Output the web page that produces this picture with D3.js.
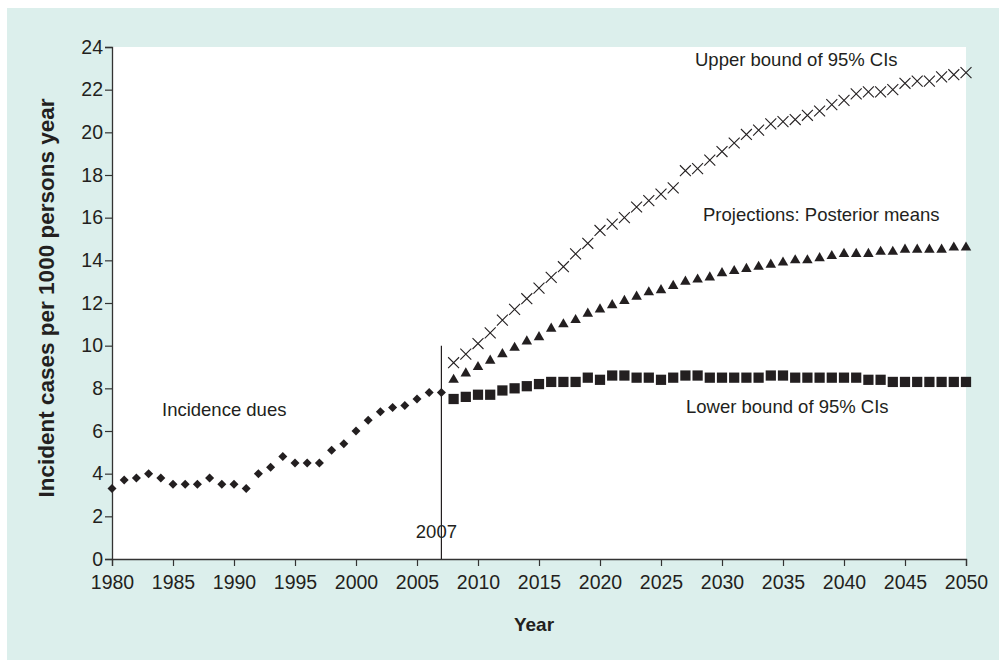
<!DOCTYPE html>
<html>
<head>
<meta charset="utf-8">
<script src="https://cdn.jsdelivr.net/npm/d3@7"></script>
<style>
  html, body { margin: 0; padding: 0; background: #ffffff; }
  svg { display: block; }
  text { font-family: "Liberation Sans", Arial, Helvetica, sans-serif; fill: #231f20; }
</style>
</head>
<body>
<svg id="chart" width="1006" height="664"></svg>
<script>
// Observed incidence, 1980–2007
const observedYears = d3.range(1980, 2008);
const observedValues = [3.3, 3.7, 3.8, 4.0, 3.8, 3.5, 3.5, 3.5, 3.8, 3.5, 3.5, 3.3, 4.0, 4.3,
  4.8, 4.5, 4.5, 4.5, 5.1, 5.4, 6.0, 6.5, 6.9, 7.1, 7.2, 7.5, 7.8, 7.8];

// Projections, 2008–2050
const projectionYears = d3.range(2008, 2051);
const upperBound = [9.2, 9.6, 10.1, 10.6, 11.2, 11.7, 12.2, 12.7, 13.2, 13.7, 14.3, 14.8, 15.4,
  15.7, 16.0, 16.5, 16.8, 17.1, 17.4, 18.2, 18.3, 18.7, 19.1, 19.5, 19.9, 20.1, 20.4, 20.5,
  20.6, 20.8, 21.0, 21.3, 21.5, 21.8, 21.9, 21.9, 22.0, 22.3, 22.4, 22.4, 22.6, 22.7, 22.8];
const posteriorMeans = [8.4, 8.7, 9.0, 9.3, 9.6, 9.9, 10.2, 10.4, 10.8, 11.0, 11.2, 11.5, 11.7,
  11.9, 12.1, 12.3, 12.5, 12.6, 12.8, 13.0, 13.1, 13.2, 13.4, 13.5, 13.6, 13.7, 13.8, 13.9,
  14.0, 14.0, 14.1, 14.2, 14.3, 14.3, 14.3, 14.4, 14.4, 14.5, 14.5, 14.5, 14.5, 14.6, 14.6];
const lowerBound = [7.5, 7.6, 7.7, 7.7, 7.9, 8.0, 8.1, 8.2, 8.3, 8.3, 8.3, 8.5, 8.4, 8.6, 8.6,
  8.5, 8.5, 8.4, 8.5, 8.6, 8.6, 8.5, 8.5, 8.5, 8.5, 8.5, 8.6, 8.6, 8.5, 8.5, 8.5, 8.5, 8.5,
  8.5, 8.4, 8.4, 8.3, 8.3, 8.3, 8.3, 8.3, 8.3, 8.3];

const xTicks = d3.range(1980, 2051, 5);
const yTicks = d3.range(0, 25, 2);
const cutoffYear = 2007;
const cutoffTop = 10;

const svg = d3.select("#chart");

// Panel background
svg.append("rect").attr("x", 7).attr("y", 8).attr("width", 992).attr("height", 652)
  .attr("fill", "#dcefec");

const x = d3.scaleLinear().domain([1980, 2050]).range([112, 966]);
const y = d3.scaleLinear().domain([0, 24]).range([559, 47]);

// Plot area
svg.append("rect")
  .attr("x", x(1980)).attr("y", y(24))
  .attr("width", x(2050) - x(1980)).attr("height", y(0) - y(24))
  .attr("fill", "#ffffff");

// Axes
const xAxis = svg.append("g").attr("transform", `translate(0,${y(0)})`)
  .call(d3.axisBottom(x).tickValues(xTicks).tickFormat(d3.format("d")).tickSize(7).tickPadding(9));
const yAxis = svg.append("g").attr("transform", `translate(${x(1980)},0)`)
  .call(d3.axisLeft(y).tickValues(yTicks).tickSize(7).tickPadding(2));

[xAxis, yAxis].forEach(g => {
  g.select(".domain").attr("stroke", "#333").attr("stroke-width", 1.3);
  g.selectAll(".tick line").attr("stroke", "#333").attr("stroke-width", 1.2);
  g.selectAll(".tick text").style("font-size", "19.5px")
    .style("font-family", "'Liberation Sans', Arial, sans-serif").attr("fill", "#231f20");
});
yAxis.selectAll(".tick text").attr("dy", "0.32em");

// Axis titles
svg.append("text").attr("x", x(2015) - 5).attr("y", 631)
  .attr("text-anchor", "middle").style("font-size", "19px").style("font-weight", "bold")
  .text("Year");
svg.append("text")
  .attr("transform", `translate(54,298) rotate(-90)`)
  .attr("text-anchor", "middle").style("font-size", "22.5px").style("font-weight", "bold")
  .text("Incident cases per 1000 persons year");

// Cut-off between observed and projected years
svg.append("line")
  .attr("x1", x(cutoffYear)).attr("x2", x(cutoffYear))
  .attr("y1", y(0)).attr("y2", y(cutoffTop))
  .attr("stroke", "#231f20").attr("stroke-width", 1.2);
svg.append("text").attr("x", x(cutoffYear) - 5).attr("y", 538)
  .attr("text-anchor", "middle").style("font-size", "18.5px").text("2007");

const ink = "#231f20";

// Observed incidence: diamonds
svg.append("g").selectAll("path")
  .data(observedYears.map((yr, i) => [yr, observedValues[i]]))
  .join("path")
  .attr("transform", d => `translate(${x(d[0])},${y(d[1])})`)
  .attr("d", d3.symbol(d3.symbolDiamond2, 52))
  .attr("fill", ink);

// Lower bound: squares
svg.append("g").selectAll("path")
  .data(projectionYears.map((yr, i) => [yr, lowerBound[i]]))
  .join("path")
  .attr("transform", d => `translate(${x(d[0])},${y(d[1])})`)
  .attr("d", d3.symbol(d3.symbolSquare, 105))
  .attr("fill", ink);

// Posterior means: triangles
svg.append("g").selectAll("path")
  .data(projectionYears.map((yr, i) => [yr, posteriorMeans[i]]))
  .join("path")
  .attr("transform", d => `translate(${x(d[0])},${y(d[1])})`)
  .attr("d", d3.symbol(d3.symbolTriangle, 48))
  .attr("fill", ink);

// Upper bound: crosses
svg.append("g").selectAll("path")
  .data(projectionYears.map((yr, i) => [yr, upperBound[i]]))
  .join("path")
  .attr("transform", d => `translate(${x(d[0])},${y(d[1])})`)
  .attr("d", d3.symbol(d3.symbolTimes, 80))
  .attr("fill", "none").attr("stroke", ink).attr("stroke-width", 1.1);

// Series labels
const labels = [
  { text: "Upper bound of 95% CIs", x: 695, y: 66 },
  { text: "Projections: Posterior means", x: 703, y: 221 },
  { text: "Lower bound of 95% CIs", x: 686, y: 413 },
  { text: "Incidence dues", x: 162, y: 416 }
];
svg.append("g").selectAll("text").data(labels).join("text")
  .attr("x", d => d.x).attr("y", d => d.y)
  .style("font-size", "18.5px").text(d => d.text);
</script>
</body>
</html>
